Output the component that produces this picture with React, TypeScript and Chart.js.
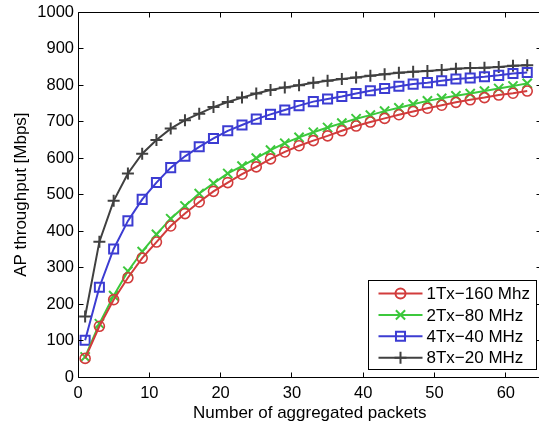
import React, { useEffect, useRef } from 'react';
import { Chart, registerables } from 'chart.js';

Chart.register(...registerables);

const packets = [1, 3, 5, 7, 9, 11, 13, 15, 17, 19, 21, 23, 25, 27, 29, 31, 33, 35, 37, 39, 41, 43, 45, 47, 49, 51, 53, 55, 57, 59, 61, 63];
const tx1_160 = [51, 139, 212, 272, 326, 370, 414, 448, 480, 509, 533, 556, 576, 598, 617, 634, 648, 661, 675, 688, 699, 709, 719, 728, 737, 745, 753, 760, 766, 773, 778, 784];
const tx2_80 = [55, 146, 223, 290, 344, 391, 434, 469, 503, 531, 558, 578, 600, 622, 641, 657, 671, 684, 696, 708, 718, 729, 738, 748, 757, 764, 771, 777, 784, 791, 798, 805];
const tx4_40 = [101, 246, 351, 428, 487, 533, 574, 605, 631, 654, 675, 691, 707, 720, 732, 744, 755, 762, 769, 777, 785, 791, 797, 803, 807, 812, 817, 820, 823, 827, 832, 835];
const tx8_20 = [166, 371, 483, 558, 612, 650, 681, 704, 722, 740, 754, 766, 777, 787, 794, 800, 807, 812, 817, 821, 826, 830, 834, 837, 839, 842, 845, 847, 848, 850, 853, 855];

const seriesLabels = ['1Tx\u2212160 Mhz', '2Tx\u221280 MHz', '4Tx\u221240 MHz', '8Tx\u221220 MHz'];
const seriesColors = ['#d23c3c', '#3cc83c', '#3c3cd2', '#404040'];
const seriesMarkers = ['circle', 'crossRot', 'rect', 'cross'];
const markerRadius = [5, 6.5, 6.4, 6];

const xTicks = [0, 10, 20, 30, 40, 50, 60];
const yTicks = [0, 100, 200, 300, 400, 500, 600, 700, 800, 900, 1000];
const xLabel = 'Number of aggregated packets';
const yLabel = 'AP throughput [Mbps]';

const FONT = "'Liberation Sans', Arial, Helvetica, sans-serif";

function drawMarker(ctx: CanvasRenderingContext2D, style: string, cx: number, cy: number, r: number) {
  ctx.beginPath();
  if (style === 'circle') {
    ctx.arc(cx, cy, r, 0, Math.PI * 2);
  } else if (style === 'rect') {
    const s = r * Math.SQRT1_2;
    ctx.rect(cx - s, cy - s, 2 * s, 2 * s);
  } else if (style === 'crossRot') {
    const d = r * Math.SQRT1_2;
    ctx.moveTo(cx - d, cy - d); ctx.lineTo(cx + d, cy + d);
    ctx.moveTo(cx - d, cy + d); ctx.lineTo(cx + d, cy - d);
  } else {
    ctx.moveTo(cx - r, cy); ctx.lineTo(cx + r, cy);
    ctx.moveTo(cx, cy - r); ctx.lineTo(cx, cy + r);
  }
  ctx.stroke();
}

const framePlugin = {
  id: 'matlabFrame',
  afterDatasetsDraw(chart: any) {
    const { ctx, chartArea, scales } = chart;
    const { left, right, top, bottom } = chartArea;
    const xs = scales.x;
    const ys = scales.y;
    const L = Math.floor(left) + 0.5;
    const R = Math.floor(right) + 0.5;
    const T = Math.floor(top) + 0.5;
    const B = Math.floor(bottom) + 0.5;
    ctx.save();
    ctx.strokeStyle = '#000';
    ctx.lineWidth = 1;
    ctx.beginPath();
    ctx.moveTo(L, T); ctx.lineTo(R, T); ctx.lineTo(R, B); ctx.lineTo(L, B); ctx.closePath();
    const tl = 5;
    xs.ticks.forEach((t: any) => {
      const px = Math.floor(xs.getPixelForValue(t.value)) + 0.5;
      ctx.moveTo(px, B); ctx.lineTo(px, B - tl);
      ctx.moveTo(px, T); ctx.lineTo(px, T + tl);
    });
    ys.ticks.forEach((t: any) => {
      const py = Math.floor(ys.getPixelForValue(t.value)) + 0.5;
      ctx.moveTo(L, py); ctx.lineTo(L + tl, py);
      ctx.moveTo(R, py); ctx.lineTo(R - tl, py);
    });
    ctx.stroke();

    // legend box (south-east)
    const lx = 368.5, ly = 280.5, lw = 168, lh = 89;
    ctx.fillStyle = '#fff';
    ctx.fillRect(lx, ly, lw, lh);
    ctx.strokeStyle = '#000';
    ctx.lineWidth = 1;
    ctx.strokeRect(lx, ly, lw, lh);
    ctx.font = `17px ${FONT}`;
    ctx.textBaseline = 'middle';
    ctx.textAlign = 'left';
    chart.data.datasets.forEach((ds: any, i: number) => {
      const cy = ly + 13 + i * 21.4;
      ctx.strokeStyle = ds.borderColor;
      ctx.lineWidth = 2;
      ctx.beginPath();
      ctx.moveTo(lx + 10, cy); ctx.lineTo(lx + 54, cy);
      ctx.stroke();
      drawMarker(ctx, ds.pointStyle, lx + 32, cy, ds.pointRadius);
      ctx.fillStyle = '#000';
      ctx.fillText(ds.label, lx + 58, cy + 1);
    });
    ctx.restore();
  },
};

export default function App() {
  const ref = useRef<HTMLCanvasElement | null>(null);

  useEffect(() => {
    if (!ref.current) return;
    const series = [tx1_160, tx2_80, tx4_40, tx8_20];
    const chart = new Chart(ref.current, {
      type: 'line',
      data: {
        datasets: series.map((vals, i) => ({
          label: seriesLabels[i],
          data: packets.map((p, j) => ({ x: p, y: vals[j] })),
          borderColor: seriesColors[i],
          backgroundColor: 'rgba(0,0,0,0)',
          borderWidth: 2,
          pointStyle: seriesMarkers[i] as any,
          pointRadius: markerRadius[i],
          pointBorderWidth: i === 0 ? 1.6 : 2,
          pointBorderColor: seriesColors[i],
          pointBackgroundColor: 'rgba(0,0,0,0)',
          pointHoverRadius: markerRadius[i],
          tension: 0,
          fill: false,
        })),
      },
      options: {
        animation: false,
        responsive: false,
        maintainAspectRatio: false,
        events: [],
        layout: { padding: { top: 10, right: 5.4, bottom: 0, left: 0 } },
        plugins: { legend: { display: false }, tooltip: { enabled: false } },
        scales: {
          x: {
            type: 'linear',
            min: 0,
            max: 65,
            afterBuildTicks: (s: any) => { s.ticks = xTicks.map((v) => ({ value: v })); },
            afterFit: (s: any) => { s.height = 50; },
            grid: { display: false, drawTicks: false },
            border: { display: false },
            ticks: { padding: 7, color: '#000', autoSkip: false, maxRotation: 0, font: { family: FONT, size: 16.5 }, callback: (v: any) => String(v) },
            title: { display: true, text: xLabel, color: '#000', font: { family: FONT, size: 17 }, padding: { top: 0, bottom: 3 } },
          },
          y: {
            type: 'linear',
            min: 0,
            max: 1000,
            afterBuildTicks: (s: any) => { s.ticks = yTicks.map((v) => ({ value: v })); },
            afterFit: (s: any) => { s.width = 78; },
            grid: { display: false, drawTicks: false },
            border: { display: false },
            ticks: { padding: 4, color: '#000', font: { family: FONT, size: 16.5, lineHeight: 1 }, callback: (v: any) => String(v) },
            title: { display: true, text: yLabel, color: '#000', font: { family: FONT, size: 17 }, padding: { top: 11.5, bottom: 0 } },
          },
        },
      },
      plugins: [framePlugin],
    } as any);
    return () => chart.destroy();
  }, []);

  return (
    <div style={{ position: 'fixed', left: 0, top: 0, width: 539, height: 427, overflow: 'hidden', background: '#fff' }}>
      <canvas ref={ref} width={550} height={427} style={{ width: 550, height: 427, display: 'block' }} />
    </div>
  );
}
